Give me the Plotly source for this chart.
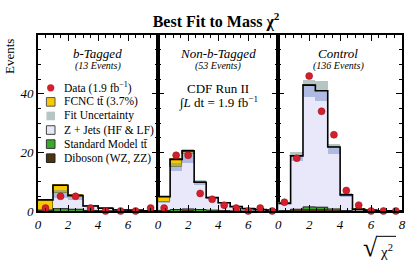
import numpy as np
import plotly.graph_objects as go

# ---------------- data ----------------
edges_b = [0, 1, 2, 3, 4, 5, 6, 7, 8]
edges_nc = [0, 0.8, 1.6, 2.4, 3.2, 4.0, 4.8, 5.6, 6.4, 7.2, 8.0]

# b-Tagged (13 events)
data_b = [1, 5, 5, 1, 0, 0, 0, 1]
fcnc_b = [3.3, 2.8, 0.4, 0.1, 0.05, 0.0, 0.0, 0.0]
zj_b = [0.3, 5.2, 4.3, 1.4, 0.8, 0.3, 0.2, 0.1]
sm_b = [0.1, 0.6, 0.4, 0.1, 0.05, 0.0, 0.0, 0.0]
dib_b = [0.1, 0.2, 0.2, 0.1, 0.05, 0.02, 0.0, 0.0]
unc_lo_b = [0.4, 4.6, 3.9, 1.2, 0.7, 0.28, 0.18, 0.08]
unc_hi_b = [0.7, 7.0, 5.4, 1.8, 1.0, 0.36, 0.24, 0.12]

# Non-b-Tagged (53 events)
data_n = [1, 19, 19, 6, 4, 2, 1, 0, 1, 0]
fcnc_n = [1.8, 2.5, 1.0, 0.1, 0.05, 0.05, 0.0, 0.0, 0.0, 0.0]
zj_n = [2.9, 14.6, 18.8, 9.2, 4.2, 2.6, 1.45, 0.8, 0.5, 0.3]
sm_n = [0.1, 0.2, 0.3, 0.2, 0.1, 0.05, 0.0, 0.0, 0.0, 0.0]
dib_n = [0.1, 0.3, 0.4, 0.3, 0.2, 0.1, 0.05, 0.0, 0.0, 0.0]
unc_lo_n = [2.7, 13.6, 16.5, 8.8, 4.0, 2.4, 1.3, 0.7, 0.45, 0.25]
unc_hi_n = [3.4, 16.3, 21.0, 10.6, 4.9, 3.0, 1.65, 0.9, 0.55, 0.35]

# Control (136 events)
data_c = [3, 18, 46, 34, 26, 7, 2, 0, 0, 0]
fcnc_c = [0.0, 0.0, 0.3, 0.1, 0.0, 0.0, 0.0, 0.0, 0.0, 0.0]
zj_c = [2.45, 18.2, 41.2, 39.6, 21.1, 5.35, 0.6, 0.2, 0.1, 0.1]
sm_c = [0.05, 0.2, 0.5, 0.4, 0.2, 0.05, 0.0, 0.0, 0.0, 0.0]
dib_c = [0.1, 0.4, 0.9, 0.9, 0.5, 0.1, 0.0, 0.0, 0.0, 0.0]
unc_lo_c = [2.3, 17.0, 38.8, 37.5, 19.5, 4.9, 0.5, 0.15, 0.05, 0.05]
unc_hi_c = [2.9, 20.0, 44.5, 44.3, 23.0, 6.0, 0.7, 0.25, 0.15, 0.15]

panel_titles = ["b-Tagged", "Non-b-Tagged", "Control"]
panel_counts = ["(13 Events)", "(53 Events)", "(136 Events)"]
y_ticks = [0, 20, 40]
legend_labels = ["Data (1.9 fb<sup>−1</sup>)", "FCNC tt̄ (3.7%)", "Fit Uncertainty",
                 "Z + Jets (HF &amp; LF)", "Standard Model tt̄", "Diboson (WZ, ZZ)"]

# ---------------- styles ----------------
C_DATA = "#d61f2c"
C_FCNC = "#f8c800"
C_FCNC_EDGE = "#8a7400"
C_ZJ = "#e8e8fa"
C_SM = "#3aa82a"
C_DIB = "#4b3510"
C_UNC_UP = "rgba(120,150,145,0.55)"
C_UNC_DN = "rgba(70,100,180,0.35)"
SERIF = "Liberation Serif"

W, H = 407, 262
L, R, T, B = 38, 402, 35, 210.7


def px(x):
    return (x - L) / (R - L)


def py(y):
    return (B - y) / (B - T)


fig = go.Figure()

panels = [
    (edges_b, data_b, fcnc_b, zj_b, sm_b, dib_b, unc_lo_b, unc_hi_b, "x", "y"),
    (edges_nc, data_n, fcnc_n, zj_n, sm_n, dib_n, unc_lo_n, unc_hi_n, "x2", "y2"),
    (edges_nc, data_c, fcnc_c, zj_c, sm_c, dib_c, unc_lo_c, unc_hi_c, "x3", "y3"),
]

for edges, dat, fc, zj, sm, dib, lo, hi, xa, ya in panels:
    e = np.array(edges, dtype=float)
    ctr = (e[:-1] + e[1:]) / 2
    w = np.diff(e)
    dib = np.array(dib); sm = np.array(sm); zj = np.array(zj); fc = np.array(fc)
    lo = np.array(lo); hi = np.array(hi)
    b1 = dib
    b2 = b1 + sm
    bkg = b2 + zj
    tot = bkg + fc
    common = dict(x=ctr, width=w, xaxis=xa, yaxis=ya, showlegend=False, hoverinfo="skip")
    fig.add_trace(go.Bar(y=dib, base=0, marker=dict(color=C_DIB, line=dict(width=0)), **common))
    fig.add_trace(go.Bar(y=sm, base=b1, marker=dict(color=C_SM, line=dict(width=0)), **common))
    fig.add_trace(go.Bar(y=zj, base=b2, marker=dict(color=C_ZJ, line=dict(width=0)), **common))
    fig.add_trace(go.Bar(y=fc, base=bkg, marker=dict(color=C_FCNC, line=dict(width=1, color=C_FCNC_EDGE)), **common))
    fig.add_trace(go.Bar(y=bkg - lo, base=lo, marker=dict(color=C_UNC_DN, line=dict(width=0)), **common))
    fig.add_trace(go.Bar(y=hi - bkg, base=bkg, marker=dict(color=C_UNC_UP, line=dict(width=0)), **common))
    # outline of bottom components
    fig.add_trace(go.Scatter(x=e, y=list(b2) + [b2[-1]], mode="lines", line_shape="hv",
                             line=dict(color="#222", width=1), xaxis=xa, yaxis=ya,
                             showlegend=False, hoverinfo="skip"))
    # outline of total
    fig.add_trace(go.Scatter(x=e, y=list(tot) + [tot[-1]], mode="lines", line_shape="hv",
                             line=dict(color="black", width=1.6), xaxis=xa, yaxis=ya,
                             showlegend=False, hoverinfo="skip"))
    fig.add_trace(go.Scatter(x=ctr, y=dat, mode="markers", cliponaxis=False,
                             marker=dict(color=C_DATA, size=7, line=dict(width=0.5, color="#8a1018")),
                             xaxis=xa, yaxis=ya, showlegend=False, hoverinfo="skip"))

axis_common = dict(showline=True, linewidth=2, linecolor="black", mirror="ticks",
                   ticks="inside", ticklen=6, tickwidth=1, tickcolor="black",
                   showgrid=False, zeroline=False, automargin=False,
                   tickfont=dict(family=SERIF, size=13, style="italic", color="black"))

xmin = dict(ticks="inside", ticklen=3, dtick=0.5, tickcolor="black", showgrid=False)
ymin = dict(ticks="inside", ticklen=3, dtick=5, tickcolor="black", showgrid=False)

fig.update_layout(
    width=W, height=H,
    margin=dict(l=L, r=W - R, t=T, b=H - B, pad=0, autoexpand=False),
    paper_bgcolor="white", plot_bgcolor="white",
    barmode="overlay", bargap=0,
    showlegend=False,
    xaxis=dict(domain=[0, 0.33], range=[0, 8], anchor="y", tickvals=[0, 2, 4, 6],
               minor=xmin, **axis_common),
    xaxis2=dict(domain=[0.33, 0.66], range=[0, 8], anchor="y2", tickvals=[0, 2, 4, 6],
                minor=xmin, **axis_common),
    xaxis3=dict(domain=[0.66, 1], range=[0, 8], anchor="y3", tickvals=[0, 2, 4, 6, 8],
                minor=xmin, **axis_common),
    yaxis=dict(range=[0, 60], anchor="x", tickvals=y_ticks, minor=ymin, **axis_common),
    yaxis2=dict(range=[0, 60], anchor="x2", tickvals=y_ticks, showticklabels=False,
                minor=ymin, **axis_common),
    yaxis3=dict(range=[0, 60], anchor="x3", tickvals=y_ticks, showticklabels=False,
                minor=ymin, **axis_common),
    title=dict(text="<b>Best Fit to Mass χ<sup>2</sup></b>", xref="paper", x=px(216),
               xanchor="center", yref="container", y=1 - 21 / H, yanchor="middle",
               font=dict(family=SERIF, size=16, color="black")),
)

ann = []


def add_text(text, x, y, size, italic=False, xanchor="center", **kw):
    ann.append(dict(text=text, x=px(x), y=py(y), xref="paper", yref="paper",
                    xanchor=xanchor, yanchor="middle", showarrow=False,
                    font=dict(family=SERIF, size=size, color="black",
                              style="italic" if italic else "normal"), **kw))


centers = [97.5, 218, 338]
for cx, t, n in zip(centers, panel_titles, panel_counts):
    add_text(t, cx, 53, 13, italic=True)
    add_text(n, cx, 65.5, 10, italic=True)

add_text("CDF Run II", 218, 88, 13)
add_text("∫<i>L</i> dt = 1.9 fb<sup>−1</sup>", 218, 102.5, 13)

# y axis title
ann.append(dict(text="Events", x=px(9), y=py(57), xref="paper", yref="paper",
                xanchor="center", yanchor="middle", textangle=-90, showarrow=False,
                font=dict(family=SERIF, size=13, color="black")))

# x axis title: sqrt(chi^2)
add_text("√", 370, 247.5, 26)
add_text("χ<sup>2</sup>", 386, 251, 15)

# legend (manual)
shapes = []
leg_y0, leg_dy = 87.7, 14.06
sw_x, txt_x, half = 50.7, 62, 4.3
swatches = [None, (C_FCNC, "#555"), ("#b5c6c4", None), (C_ZJ, "#444"), (C_SM, "#333"), (C_DIB, "#222")]
for i, (lab, sw) in enumerate(zip(legend_labels, swatches)):
    yy = leg_y0 + i * leg_dy
    if sw is None:
        shapes.append(dict(type="circle", xref="paper", yref="paper",
                           x0=px(sw_x - 3.6), x1=px(sw_x + 3.6), y0=py(yy + 3.6), y1=py(yy - 3.6),
                           fillcolor=C_DATA, line=dict(width=0)))
    else:
        fc_, lc_ = sw
        shapes.append(dict(type="rect", xref="paper", yref="paper",
                           x0=px(sw_x - half), x1=px(sw_x + half), y0=py(yy + half), y1=py(yy - half),
                           fillcolor=fc_, line=dict(width=1 if lc_ else 0, color=lc_ or fc_)))
    add_text(lab, txt_x, yy, 11.5, xanchor="left")

# overline of radical
shapes.append(dict(type="line", xref="paper", yref="paper",
                   x0=px(376.5), x1=px(396), y0=py(236), y1=py(236),
                   line=dict(color="black", width=1)))

fig.update_layout(annotations=ann, shapes=shapes)

fig.write_html("out.html", config={"displayModeBar": False},
               post_script="document.body.style.margin='0';document.body.style.padding='0';")
